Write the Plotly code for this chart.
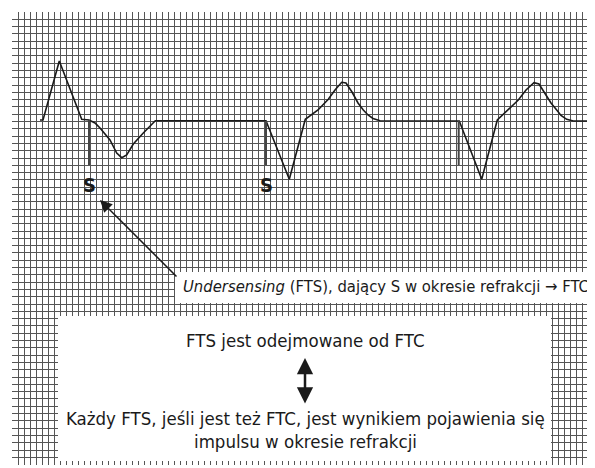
import plotly.graph_objects as go

# ECG trace (x, y in chart units; y grows downward)
ecg_x = [40, 43, 59.3, 81.7, 89, 95, 100, 110, 116.7, 121.7, 126.7, 133.3, 143.3, 155.3,
         266, 289.3, 305.3, 318, 328.3, 335, 341.7, 346, 352, 358, 363.3, 368, 373, 380,
         459.3, 481.7, 497.3, 508, 518.3, 526, 534, 539, 545, 551, 556.7, 561, 566.7, 573.3, 595]
ecg_y = [120, 120, 61, 119.3, 120, 123, 128, 140, 153, 157.7, 155, 144, 133, 120.7,
         120.7, 179.3, 119.3, 110, 99.3, 90, 82.3, 83, 92, 103, 110, 115, 118.5, 120.7,
         121, 179.3, 120, 110, 100, 90, 82.7, 84, 93, 103, 110, 115.5, 119.3, 121, 121]

# Sense markers (S)
marker_x = [89, 266, 458.7]
marker_top = [120, 121, 121]
marker_bottom = [165, 165, 165]
marker_labels = ["S", "S", ""]

grid_x0, grid_x1 = 12, 595
grid_y0, grid_y1 = 12, 465

# the page body has an 8px margin; compensate so the chart sits at the reference pixels
BODY = 8
W, H = 595 - BODY, 468 - BODY

FONT = "DejaVu Sans Condensed, Liberation Sans Narrow, Arial Narrow, sans-serif"

fig = go.Figure()

fig.add_trace(go.Scatter(x=ecg_x, y=ecg_y, mode="lines",
                         line=dict(color="#1a1a1a", width=1.6), hoverinfo="skip"))

for mx, t, b in zip(marker_x, marker_top, marker_bottom):
    fig.add_trace(go.Scatter(x=[mx, mx], y=[t, b], mode="lines",
                             line=dict(color="#444444", width=2), hoverinfo="skip"))

annotations = []
for mx, lab in zip(marker_x, marker_labels):
    if lab:
        annotations.append(dict(x=mx, y=185, text="<b>" + lab + "</b>", showarrow=False,
                                font=dict(family=FONT, size=20, color="#1a1a1a"),
                                xanchor="center", yanchor="middle"))

# arrow pointing at first S
annotations.append(dict(x=100, y=200, ax=178, ay=278, xref="x", yref="y", axref="x", ayref="y",
                        text="", showarrow=True, arrowhead=2, arrowsize=1.6, arrowwidth=1.5,
                        arrowcolor="#1a1a1a"))

# double arrow in the bottom box
annotations.append(dict(x=305, y=358, ax=305, ay=405, xref="x", yref="y", axref="x", ayref="y",
                        text="", showarrow=True, arrowhead=2, startarrowhead=2, arrowside="end+start",
                        arrowsize=1.3, startarrowsize=1.3, arrowwidth=2.5, arrowcolor="#1a1a1a"))

annotations.append(dict(x=181, y=286, xanchor="left", yanchor="middle", showarrow=False,
                        text="<i>Undersensing</i> (FTS), dający S w okresie refrakcji → FTC",
                        font=dict(family=FONT, size=16.5, color="#1a1a1a")))
annotations.append(dict(x=305, y=340, showarrow=False, text="FTS jest odejmowane od FTC",
                        font=dict(family=FONT, size=18.5, color="#1a1a1a")))
annotations.append(dict(x=305, y=418, showarrow=False,
                        text="Każdy FTS, jeśli jest też FTC, jest wynikiem pojawienia się",
                        font=dict(family=FONT, size=18.5, color="#1a1a1a")))
annotations.append(dict(x=305, y=441, showarrow=False, text="impulsu w okresie refrakcji",
                        font=dict(family=FONT, size=18.5, color="#1a1a1a")))

shapes = [
    dict(type="rect", x0=175, x1=596, y0=272, y1=303, xref="x", yref="y",
         fillcolor="white", line=dict(width=0), layer="above"),
    dict(type="rect", x0=58, x1=551, y0=316, y1=461, xref="x", yref="y",
         fillcolor="white", line=dict(width=0), layer="above"),
]

fig.update_layout(
    width=W, height=H,
    margin=dict(l=grid_x0 - BODY, r=595 - grid_x1, t=grid_y0 - BODY, b=468 - grid_y1,
                pad=0, autoexpand=False),
    paper_bgcolor="white", plot_bgcolor="white",
    showlegend=False,
    annotations=annotations, shapes=shapes,
    xaxis=dict(range=[grid_x0, grid_x1], tick0=12, dtick=6, showgrid=True,
               gridcolor="#555555", gridwidth=1, zeroline=False, showticklabels=False,
               ticks="", fixedrange=True),
    yaxis=dict(range=[grid_y1, grid_y0], tick0=12, dtick=7.3, showgrid=True,
               gridcolor="#555555", gridwidth=1, zeroline=False, showticklabels=False,
               ticks="", fixedrange=True),
)

fig.write_html("out.html", config={"displayModeBar": False})
